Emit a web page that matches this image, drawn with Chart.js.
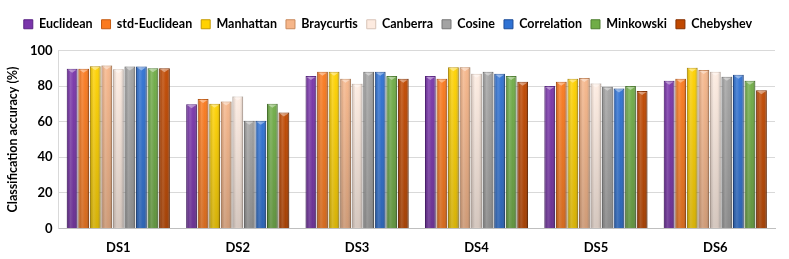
<!DOCTYPE html>
<html>
<head>
<meta charset="utf-8">
<script src="https://cdn.jsdelivr.net/npm/chart.js@4/dist/chart.umd.min.js"></script>
<style>
  html, body { margin: 0; padding: 0; background: #fff; }
  #wrap { width: 789px; height: 259px; }
</style>
</head>
<body>
<div id="wrap"><canvas id="accChart"></canvas></div>
<script>
const labels = ['DS1', 'DS2', 'DS3', 'DS4', 'DS5', 'DS6'];

const euclidean    = [89.7, 69.8, 85.6, 85.6, 80.0, 83.0];
const stdEuclidean = [89.7, 72.8, 88.0, 84.1, 82.4, 84.1];
const manhattan    = [91.2, 70.0, 88.0, 90.6, 84.1, 90.3];
const braycurtis   = [91.6, 71.3, 84.1, 90.6, 84.6, 89.1];
const canberra     = [89.5, 74.2, 81.3, 86.9, 81.5, 88.0];
const cosine       = [91.0, 60.5, 88.0, 88.0, 79.6, 85.2];
const correlation  = [91.0, 60.5, 88.0, 86.9, 78.7, 86.3];
const minkowski    = [90.0, 70.0, 85.6, 85.6, 80.0, 83.0];
const chebyshev    = [90.0, 65.2, 84.1, 82.4, 77.2, 77.7];

const yTicks = [0, 20, 40, 60, 80, 100];

const series = [
  ['Euclidean', euclidean, '#7a35ab', '#5a2385'],
  ['std-Euclidean', stdEuclidean, '#fb7a1e', '#c55a11'],
  ['Manhattan', manhattan, '#ffd200', '#c59a00'],
  ['Braycurtis', braycurtis, '#f6b68a', '#c98a5e'],
  ['Canberra', canberra, '#fdebe0', '#d8c4b8'],
  ['Cosine', cosine, '#a3a3a3', '#777777'],
  ['Correlation', correlation, '#2f72d4', '#1f4e99'],
  ['Minkowski', minkowski, '#70ad47', '#4e7f30'],
  ['Chebyshev', chebyshev, '#c04800', '#853000']
];

// shading over each bar for the bevelled look
const barShade = {
  id: 'barShade',
  afterDatasetsDraw(chart) {
    const c = chart.ctx;
    chart.data.datasets.forEach((ds, i) => {
      chart.getDatasetMeta(i).data.forEach(bar => {
        const l = bar.x - bar.width / 2, r = bar.x + bar.width / 2;
        const h = c.createLinearGradient(l, 0, r, 0);
        h.addColorStop(0, 'rgba(0,0,0,0.15)');
        h.addColorStop(0.35, 'rgba(255,255,255,0.18)');
        h.addColorStop(0.65, 'rgba(255,255,255,0.03)');
        h.addColorStop(1, 'rgba(0,0,0,0.22)');
        const v = c.createLinearGradient(0, bar.y, 0, bar.base);
        v.addColorStop(0, 'rgba(0,0,0,0)');
        v.addColorStop(1, 'rgba(0,0,0,0.16)');
        c.save();
        c.fillStyle = h;
        c.fillRect(l, bar.y, bar.width, bar.base - bar.y);
        c.fillStyle = v;
        c.fillRect(l, bar.y, bar.width, bar.base - bar.y);
        // small light cap on top
        c.fillStyle = 'rgba(255,255,255,0.4)';
        c.beginPath();
        c.moveTo(l + 1, bar.y + 1);
        c.lineTo(r - 1, bar.y + 1);
        c.lineTo(bar.x, bar.y + 4);
        c.closePath();
        c.fill();
        c.restore();
      });
    });
  }
};

// extra gap under the legend
const legendGap = {
  id: 'legendGap',
  beforeInit(chart) {
    const fit = chart.legend.fit;
    chart.legend.fit = function () {
      fit.call(this);
      this.height += 10;
    };
  }
};

const ctx = document.getElementById('accChart').getContext('2d');

new Chart(ctx, {
  type: 'bar',
  data: {
    labels: labels,
    datasets: series.map(s => ({
      label: s[0],
      data: s[1],
      backgroundColor: s[2],
      borderColor: s[3],
      borderWidth: 1
    }))
  },
  options: {
    responsive: true,
    maintainAspectRatio: false,
    animation: false,
    datasets: {
      bar: { categoryPercentage: 0.87, barPercentage: 0.93 }
    },
    layout: { padding: { left: 1, right: 14, top: 9, bottom: -9 } },
    plugins: {
      legend: {
        position: 'top',
        labels: {
          boxWidth: 9,
          boxHeight: 9,
          padding: 9,
          color: '#000',
          font: { family: 'Lato', size: 12.5, weight: 'bold' }
        }
      },
      tooltip: { enabled: false }
    },
    scales: {
      x: {
        grid: { display: false, drawTicks: false },
        border: { color: '#bfbfbf' },
        ticks: { color: '#000', padding: 12, font: { family: 'Lato', size: 13, weight: 'bold' } }
      },
      y: {
        min: 0,
        max: 100,
        afterBuildTicks: axis => { axis.ticks = yTicks.map(v => ({ value: v })); },
        grid: { color: '#d9d9d9', drawTicks: false },
        border: { color: '#d9d9d9' },
        ticks: { color: '#000', padding: 6, font: { family: 'Lato', size: 13, weight: 'bold' } },
        title: {
          display: true,
          text: 'Classification accuracy (%)',
          color: '#000',
          font: { family: 'Lato', size: 12.5, weight: 'bold' }
        }
      }
    }
  },
  plugins: [barShade, legendGap]
});
</script>
</body>
</html>
